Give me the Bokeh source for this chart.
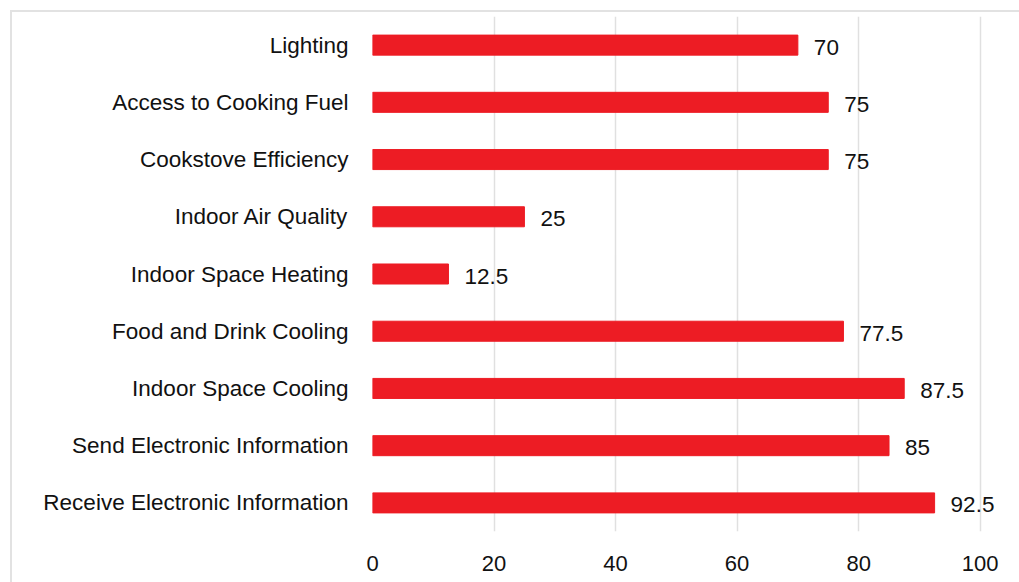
from bokeh.plotting import figure
from bokeh.models import ColumnDataSource, FixedTicker
from bokeh.embed import file_html
from bokeh.resources import INLINE
from bokeh.core.properties import value

categories = [
    "Lighting",
    "Access to Cooking Fuel",
    "Cookstove Efficiency",
    "Indoor Air Quality",
    "Indoor Space Heating",
    "Food and Drink Cooling",
    "Indoor Space Cooling",
    "Send Electronic Information",
    "Receive Electronic Information",
]
scores = [70, 75, 75, 25, 12.5, 77.5, 87.5, 85, 92.5]
score_labels = ["70", "75", "75", "25", "12.5", "77.5", "87.5", "85", "92.5"]
x_ticks = [0, 20, 40, 60, 80, 100]

FONT = "Liberation Sans"
RED = "#ED1C24"

src = ColumnDataSource(dict(cat=categories, val=scores, lab=score_labels))

p = figure(
    y_range=list(reversed(categories)),
    x_range=(0, 106.8),
    width=1009, height=572,
    output_backend="svg", toolbar_location=None,
    min_border_left=360, min_border_right=0,
    min_border_top=4, min_border_bottom=53,
)
p.margin = (10, 0, 0, 10)
p.styles = {"border-top": "2px solid #e2e2e2", "border-left": "2px solid #e2e2e2"}
p.outline_line_color = None

p.hbar(y="cat", right="val", left=0, height=0.35, source=src, color=RED)
p.text(x="val", y="cat", text="lab", source=src, x_offset=16, y_offset=2,
       text_baseline="middle", text_align="left", text_font=value(FONT),
       text_font_size="22.5px", text_color="#111111")

p.xaxis.ticker = FixedTicker(ticks=x_ticks)
p.xaxis.axis_line_color = None
p.xaxis.major_tick_line_color = None
p.xaxis.minor_tick_line_color = None
p.xaxis.major_label_text_font = FONT
p.xaxis.major_label_text_font_size = "22px"
p.xaxis.major_label_text_color = "#111111"
p.xaxis.major_label_standoff = 18

p.yaxis.axis_line_color = None
p.yaxis.major_tick_line_color = None
p.yaxis.minor_tick_line_color = None
p.yaxis.major_label_text_font = FONT
p.yaxis.major_label_text_font_size = "22.5px"
p.yaxis.major_label_text_color = "#111111"
p.yaxis.major_label_standoff = 18

p.ygrid.grid_line_color = None
p.xgrid.ticker = FixedTicker(ticks=x_ticks)
p.xgrid.grid_line_color = "#e0e0e0"
p.xgrid.grid_line_width = 1.5

open("out.html", "w").write(file_html(p, INLINE))
